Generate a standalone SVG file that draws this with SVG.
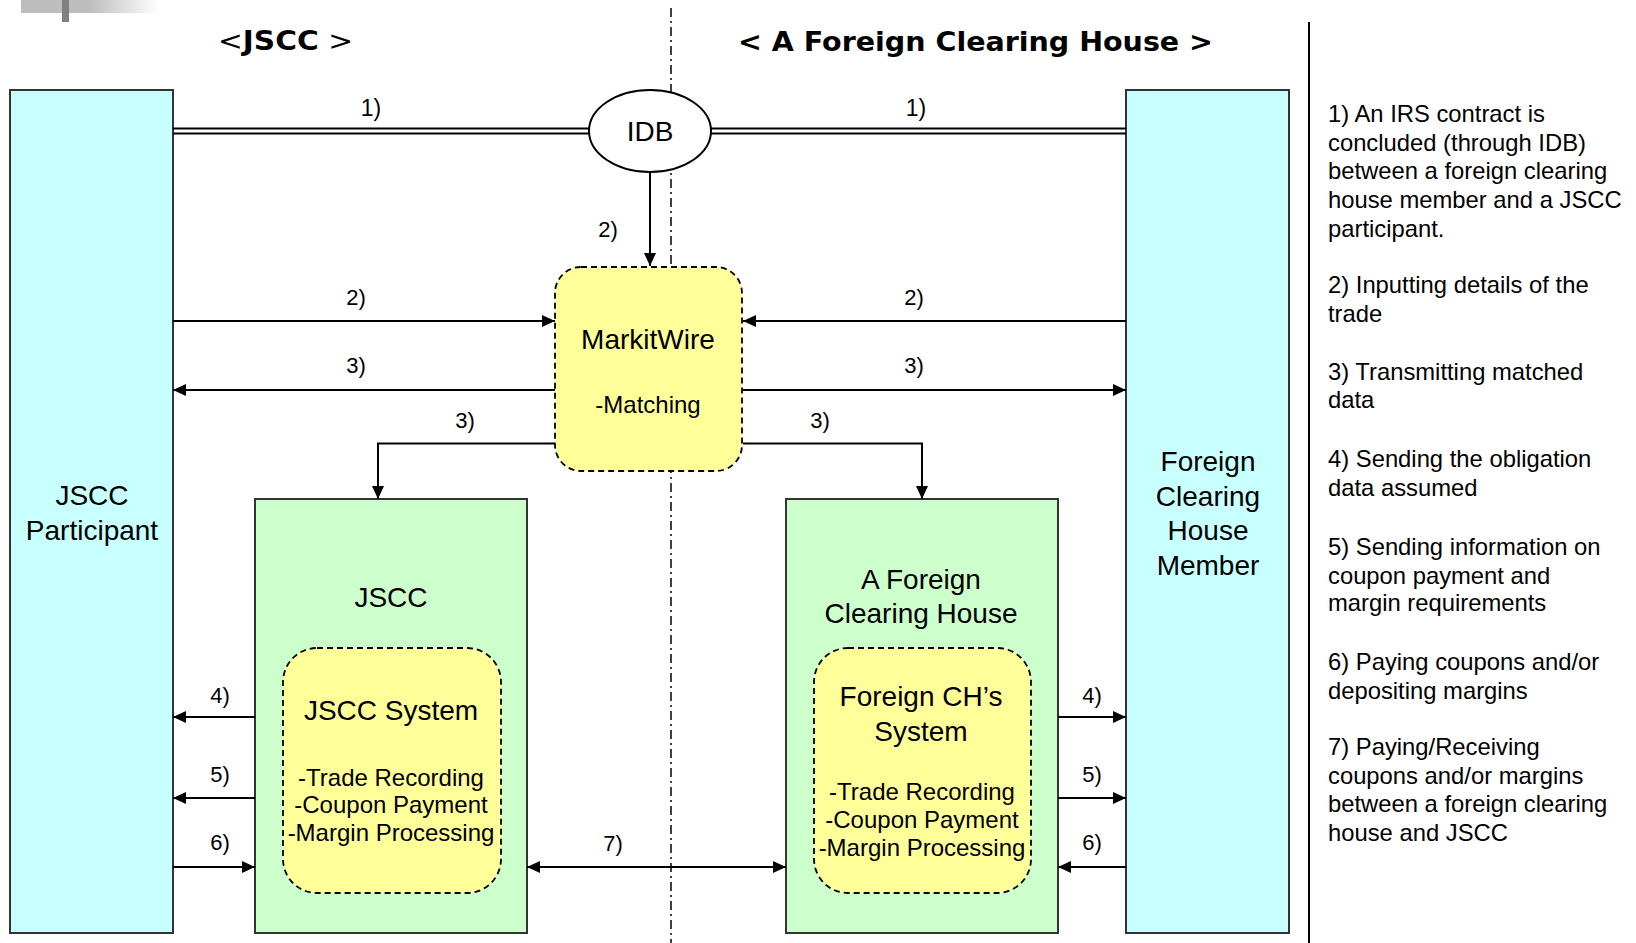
<svg xmlns="http://www.w3.org/2000/svg" width="1636" height="943" viewBox="0 0 1636 943">
<style>
text{font-family:"Liberation Sans",Arial,sans-serif;fill:#000}
.lbl{font-size:22px;text-anchor:middle}
.lbl1{font-size:23px;text-anchor:middle}
.big{font-size:28px;text-anchor:middle}
.mid{font-size:24px;text-anchor:middle}
.note{font-size:23.8px}
.title{font-family:"DejaVu Sans","Liberation Sans",sans-serif;font-size:27px}
.cyan{fill:#C8FFFF;stroke:#333;stroke-width:2}
.green{fill:#CCFFCC;stroke:#333;stroke-width:2}
.sys{fill:#FFFF99;stroke:#000;stroke-width:1.8;stroke-dasharray:6 4}
.ln{fill:none;stroke:#000;stroke-width:2}
</style>
<defs>
<marker id="ah" viewBox="0 0 13 12" refX="13" refY="6" markerWidth="13" markerHeight="12" markerUnits="userSpaceOnUse" orient="auto-start-reverse">
<path d="M0,0 L13,6 L0,12 z" fill="#000"/>
</marker>
<linearGradient id="gg" x1="0" y1="0" x2="1" y2="0">
<stop offset="0" stop-color="#bebebe"/>
<stop offset="0.5" stop-color="#bebebe"/>
<stop offset="1" stop-color="#ffffff"/>
</linearGradient>
</defs>
<rect width="1636" height="943" fill="#fff"/>
<g id="decor">
<rect x="21" y="0" width="138" height="13" fill="url(#gg)"/>
<rect x="62" y="0" width="7" height="22" fill="#808080"/>
<line x1="671" y1="8" x2="671" y2="943" stroke="#000" stroke-width="1.5" stroke-dasharray="9 4 2 4"/>
<line x1="1309" y1="22" x2="1309" y2="943" stroke="#000" stroke-width="2"/>
</g>
<g id="titles">
<text class="title" x="218" y="50" textLength="135" lengthAdjust="spacingAndGlyphs">&lt;<tspan font-weight="bold">JSCC</tspan> &gt;</text>
<text class="title" x="738" y="50.5" font-weight="bold" textLength="475" lengthAdjust="spacingAndGlyphs">&lt; A Foreign Clearing House &gt;</text>
</g>
<g id="jscc-participant">
<rect class="cyan" x="10" y="90" width="163" height="843"/>
<text class="big" x="92" y="505">JSCC</text>
<text class="big" x="92" y="540">Participant</text>
</g>
<g id="foreign-member">
<rect class="cyan" x="1126" y="90" width="163" height="843"/>
<text class="big" x="1208" y="471">Foreign</text>
<text class="big" x="1208" y="506">Clearing</text>
<text class="big" x="1208" y="540">House</text>
<text class="big" x="1208" y="575">Member</text>
</g>
<g id="idb">
<ellipse cx="650" cy="131" rx="61" ry="41" fill="#fff" stroke="#000" stroke-width="2"/>
<text class="big" x="650" y="141">IDB</text>
</g>
<g id="markitwire">
<rect class="sys" x="555" y="267" width="187" height="204" rx="26" ry="26"/>
<text class="big" x="648" y="349">MarkitWire</text>
<text class="mid" x="648" y="413">-Matching</text>
</g>
<g id="jscc">
<rect class="green" x="255" y="499" width="272" height="434"/>
<text class="big" x="391" y="607">JSCC</text>
<rect class="sys" x="283" y="648" width="218" height="245" rx="34" ry="34"/>
<text class="big" x="391" y="720">JSCC System</text>
<text class="mid" x="391" y="786">-Trade Recording</text>
<text class="mid" x="391" y="813">-Coupon Payment</text>
<text class="mid" x="391" y="841">-Margin Processing</text>
</g>
<g id="foreign-ch">
<rect class="green" x="786" y="499" width="272" height="434"/>
<text class="big" x="921" y="589">A Foreign</text>
<text class="big" x="921" y="623">Clearing House</text>
<rect class="sys" x="814" y="648" width="217" height="245" rx="34" ry="34"/>
<text class="big" x="921" y="706">Foreign CH’s</text>
<text class="big" x="921" y="741">System</text>
<text class="mid" x="922" y="800">-Trade Recording</text>
<text class="mid" x="922" y="828">-Coupon Payment</text>
<text class="mid" x="922" y="856">-Margin Processing</text>
</g>
<g id="connectors">
<line class="ln" x1="173" y1="128.5" x2="590" y2="128.5"/>
<line class="ln" x1="173" y1="133.5" x2="590" y2="133.5"/>
<line class="ln" x1="710" y1="128.5" x2="1126" y2="128.5"/>
<line class="ln" x1="710" y1="133.5" x2="1126" y2="133.5"/>
<path class="ln" d="M650,172 V266" marker-end="url(#ah)"/>
<path class="ln" d="M173,321 H555" marker-end="url(#ah)"/>
<path class="ln" d="M1126,321 H743" marker-end="url(#ah)"/>
<path class="ln" d="M555,390 H173" marker-end="url(#ah)"/>
<path class="ln" d="M743,390 H1126" marker-end="url(#ah)"/>
<path class="ln" d="M555,443.5 H378 V499" marker-end="url(#ah)"/>
<path class="ln" d="M743,443.5 H922 V499" marker-end="url(#ah)"/>
<path class="ln" d="M255,717 H173" marker-end="url(#ah)"/>
<path class="ln" d="M255,798 H173" marker-end="url(#ah)"/>
<path class="ln" d="M173,867 H255" marker-end="url(#ah)"/>
<path class="ln" d="M1058,717 H1126" marker-end="url(#ah)"/>
<path class="ln" d="M1058,798 H1126" marker-end="url(#ah)"/>
<path class="ln" d="M1126,867 H1058" marker-end="url(#ah)"/>
<path class="ln" d="M527,867 H786" marker-start="url(#ah)" marker-end="url(#ah)"/>
</g>
<g id="connector-labels">
<text class="lbl1" x="371" y="116">1)</text>
<text class="lbl1" x="916" y="116">1)</text>
<text class="lbl" x="608" y="237">2)</text>
<text class="lbl" x="356" y="305">2)</text>
<text class="lbl" x="914" y="305">2)</text>
<text class="lbl" x="356" y="373">3)</text>
<text class="lbl" x="914" y="373">3)</text>
<text class="lbl" x="465" y="428">3)</text>
<text class="lbl" x="820" y="428">3)</text>
<text class="lbl" x="220" y="703">4)</text>
<text class="lbl" x="220" y="782">5)</text>
<text class="lbl" x="220" y="850">6)</text>
<text class="lbl" x="1092" y="703">4)</text>
<text class="lbl" x="1092" y="782">5)</text>
<text class="lbl" x="1092" y="850">6)</text>
<text class="lbl" x="613" y="851">7)</text>
</g>
<g id="legend">
<text class="note" x="1328" y="122">1) An IRS contract is</text>
<text class="note" x="1328" y="150.5">concluded (through IDB)</text>
<text class="note" x="1328" y="179">between a foreign clearing</text>
<text class="note" x="1328" y="208">house member and a JSCC</text>
<text class="note" x="1328" y="236.5">participant.</text>
<text class="note" x="1328" y="293">2) Inputting details of the</text>
<text class="note" x="1328" y="321.5">trade</text>
<text class="note" x="1328" y="380">3) Transmitting matched</text>
<text class="note" x="1328" y="408">data</text>
<text class="note" x="1328" y="467">4) Sending the obligation</text>
<text class="note" x="1328" y="496">data assumed</text>
<text class="note" x="1328" y="555">5) Sending information on</text>
<text class="note" x="1328" y="583.5">coupon payment and</text>
<text class="note" x="1328" y="611">margin requirements</text>
<text class="note" x="1328" y="670">6) Paying coupons and/or</text>
<text class="note" x="1328" y="698.5">depositing margins</text>
<text class="note" x="1328" y="755">7) Paying/Receiving</text>
<text class="note" x="1328" y="783.5">coupons and/or margins</text>
<text class="note" x="1328" y="812">between a foreign clearing</text>
<text class="note" x="1328" y="840.5">house and JSCC</text>
</g>
</svg>
